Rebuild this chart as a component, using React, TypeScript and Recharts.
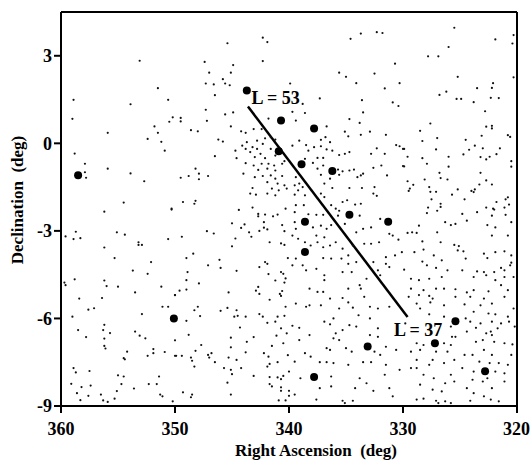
import React from "react";
import {
  ScatterChart,
  Scatter,
  XAxis,
  YAxis,
  ReferenceLine,
  Label,
} from "recharts";

const SERIF = "'Liberation Serif', 'Times New Roman', serif";

const raTicks = [360, 350, 340, 330, 320];
const decTicks = [3, 0, -3, -6, -9];

// bright sources [ra, dec]
const brightStars: [number, number][] = [
  [343.7, 1.81], [340.7, 0.78], [337.8, 0.51], [340.9, -0.27], [338.9, -0.72],
  [336.2, -0.95], [334.7, -2.45], [331.3, -2.69], [338.6, -2.69], [338.6, -3.72],
  [358.5, -1.09], [350.1, -6.0], [333.1, -6.96], [337.8, -8.01], [325.4, -6.1],
  [327.2, -6.85], [322.8, -7.81],
];

// faint field sources [ra, dec]
const faintStars: [number, number][] = [
  // 360-350, north
  [353.1, 2.83], [351.5, 1.89], [358.9, 1.49], [353.9, 1.34], [350.6, 1.49],
  [359.0, 0.84], [350.2, 0.89], [350.5, 0.74], [351.8, 0.58], [355.9, 0.36],
  [351.5, 0.36], [352.4, 0.15], [351.2, 0.05], [350.9, -0.25], [358.8, -0.35],
  [357.9, -0.7], [355.9, -0.87], [357.9, -0.99], [357.8, -1.18], [353.9, -1.03],
  [352.7, -1.3], [354.5, -2.03], [350.3, -2.24],
  // 350-340, north
  [345.4, 3.43], [341.9, 3.47], [342.3, 3.62], [347.4, 2.79], [344.9, 2.68],
  [342.3, 2.82], [347.0, 2.42], [345.1, 2.42], [345.8, 2.2], [347.3, 2.05],
  [346.6, 2.02], [345.6, 2.05], [345.2, 1.99], [346.5, 1.65], [347.3, 1.15],
  [344.9, 1.06], [345.6, 0.99], [349.5, 0.87], [349.5, 0.75], [347.2, 0.77],
  [345.1, 0.58], [348.6, 0.45], [348.0, 0.41], [344.2, 0.41], [343.8, 0.36],
  [343.1, 0.49], [342.4, 0.49], [346.2, 0.13], [345.8, 0.06], [341.8, 0.85],
  [342.1, 0.17], [341.6, 0.21], [341.2, 0.13], [342.8, 0.09], [342.3, -0.02],
  [343.7, 0.04], [344.1, -0.08], [344.7, -0.25], [343.8, -0.19], [343.2, -0.13],
  [342.8, -0.19], [343.4, -0.3], [342.5, -0.36], [343.0, -0.47], [342.1, -0.51],
  [341.6, -0.19], [341.2, -0.42], [340.7, -0.3], [340.4, -0.61], [344.6, -0.51],
  [346.5, -0.44], [343.8, -0.68], [343.1, -0.76], [342.4, -0.7], [341.8, -0.7],
  [341.3, -0.76], [340.6, -0.7], [342.7, -0.91], [341.9, -0.87], [341.2, -0.93],
  [344.0, -1.04], [343.0, -1.16], [342.3, -1.12], [341.6, -1.1], [341.2, -1.21],
  [340.6, -1.12], [349.5, -1.18], [348.8, -1.12], [348.2, -0.87], [347.9, -1.04],
  [347.9, -1.23], [347.1, -1.12], [341.9, -1.33], [341.0, -1.38], [340.4, -1.44],
  [343.2, -1.53], [341.5, -1.55], [340.9, -1.61], [340.2, -1.55], [343.4, -1.72],
  [342.9, -1.76], [341.9, -1.72], [341.2, -1.78], [349.3, -2.01], [348.2, -1.97],
  [348.3, -2.07], [343.2, -2.2], [340.3, -2.24],
  // 340-330, north
  [333.7, 3.76], [332.3, 3.81], [331.8, 3.78], [334.6, 3.58], [330.7, 2.73],
  [335.6, 2.42], [335.0, 2.28], [332.5, 2.39], [334.1, 2.06], [330.3, 2.06],
  [331.6, 1.88], [337.3, 1.54], [333.6, 1.48], [330.4, 1.28], [330.9, 1.4],
  [339.9, 2.05], [338.8, 1.35], [339.7, 1.08], [338.6, 1.04], [339.4, 0.78],
  [333.5, 1.06], [334.7, 0.83], [333.8, 0.7], [336.7, 0.58], [335.1, 0.4],
  [334.8, 0.24], [333.7, 0.29], [332.9, 0.4], [331.5, 0.29], [339.1, 0.09],
  [337.2, 0.12], [336.8, 0.21], [336.4, 0.04], [339.7, -0.08], [338.5, -0.06],
  [337.8, -0.13], [337.2, -0.1], [336.7, -0.21], [336.2, -0.25], [338.3, -0.25],
  [335.6, -0.4], [335.1, -0.36], [334.7, -0.3], [332.8, -0.36], [332.3, -0.17],
  [331.6, -0.36], [330.6, -0.06], [330.3, -0.1], [330.0, -0.19], [337.5, -0.5],
  [337.0, -0.5], [338.6, -0.53], [337.9, -0.67], [337.0, -0.76], [337.5, -0.87],
  [335.7, -0.9], [335.3, -0.96], [334.7, -0.93], [334.3, -0.9], [335.6, -1.08],
  [334.0, -1.16], [333.7, -1.1], [333.5, -1.04], [332.6, -0.84], [331.9, -0.76],
  [331.4, -1.1], [330.0, -0.78], [337.2, -1.08], [336.4, -1.21], [336.9, -1.38],
  [336.2, -1.53], [334.7, -1.53], [333.6, -1.53], [332.5, -1.5], [332.6, -1.72],
  [332.3, -1.8], [339.4, -1.16], [339.5, -1.44], [339.1, -1.38], [338.8, -1.5],
  [339.2, -1.61], [339.5, -1.76], [338.6, -1.78], [336.9, -1.84], [337.2, -1.72],
  [335.3, -2.01], [334.9, -1.95], [334.2, -2.1], [333.7, -2.07], [336.3, -2.12],
  [335.9, -2.24], [339.4, -2.12], [338.7, -2.12],
  // 330-320, north
  [325.5, 3.96], [321.9, 3.56], [320.3, 3.71], [320.4, 3.42], [326.0, 3.3],
  [327.8, 2.98], [326.9, 2.98], [325.2, 2.28], [320.3, 2.26], [322.1, 2.06],
  [323.5, 1.89], [322.2, 1.9], [326.2, 1.77], [326.8, 1.66], [325.3, 1.52],
  [324.9, 1.52], [323.8, 1.41], [322.3, 1.56], [321.6, 1.55], [322.8, 1.1],
  [327.6, 0.68], [328.5, 0.43], [322.7, 0.57], [322.2, 0.6], [322.2, 0.51],
  [323.1, 0.26], [320.8, 0.28], [320.6, 0.22], [328.3, 0.08], [327.0, 0.18],
  [324.5, 0.12], [323.7, -0.08], [324.2, -0.22], [323.0, -0.17], [321.5, -0.17],
  [329.9, -0.19], [327.1, -0.21], [329.6, -0.46], [328.3, -0.51], [326.0, -0.46],
  [324.7, -0.38], [323.2, -0.47], [322.7, -0.55], [322.4, -0.46], [321.8, -0.37],
  [320.5, -0.61], [327.9, -0.7], [326.0, -0.8], [320.5, -0.8], [329.9, -0.79],
  [326.8, -1.01], [323.2, -1.01], [328.1, -1.24], [326.7, -1.19], [326.1, -1.24],
  [322.7, -1.27], [329.6, -1.3], [329.1, -1.42], [329.4, -1.55], [329.5, -1.63],
  [327.7, -1.5], [327.6, -1.66], [327.1, -1.66], [325.2, -1.58], [324.0, -1.63],
  [323.7, -1.58], [323.8, -1.67], [323.3, -1.41], [322.2, -1.41], [325.7, -1.76],
  [327.5, -1.92], [326.7, -2.07], [326.7, -2.18], [327.8, -2.2], [324.6, -1.92],
  [322.7, -2.2], [322.1, -2.24], [321.8, -2.01], [321.0, -1.92], [320.8, -1.85],
  [320.7, -2.1], [321.1, -2.2],
  // 360-350, south
  [356.2, -2.34], [350.3, -2.27], [358.7, -3.03], [359.6, -3.19], [358.9, -3.28],
  [358.3, -3.25], [355.1, -3.05], [354.4, -3.13], [353.2, -3.39], [352.9, -3.48],
  [353.2, -3.48], [350.6, -3.28], [356.2, -3.57], [355.3, -3.93], [352.1, -4.07],
  [353.7, -4.36], [352.4, -4.47], [358.8, -4.66], [359.7, -4.77], [359.6, -4.86],
  [356.2, -4.7], [356.0, -4.89], [355.0, -4.91], [353.5, -5.11], [351.2, -4.91],
  [358.4, -5.32], [356.4, -5.3], [357.1, -5.65], [357.6, -5.7], [351.1, -5.6],
  [350.6, -5.6], [350.0, -5.2], [359.0, -5.94], [352.9, -5.85], [356.2, -6.22],
  [356.3, -6.4], [355.7, -6.5], [358.5, -6.4], [357.8, -6.64], [356.2, -6.69],
  [353.5, -6.45], [353.1, -6.59], [352.6, -6.68], [350.0, -6.75], [356.2, -6.94],
  [356.1, -7.03], [354.2, -7.14], [354.5, -7.36], [354.4, -7.4], [351.9, -7.05],
  [351.9, -7.19], [352.4, -7.28], [350.9, -7.15], [349.9, -7.28], [358.9, -7.7],
  [358.7, -7.85], [357.5, -7.8], [355.0, -7.95], [354.5, -7.99], [351.4, -7.99],
  [359.1, -8.24], [358.2, -8.35], [357.4, -8.3], [354.7, -8.25], [353.6, -8.4],
  [352.3, -8.25], [351.6, -8.25], [358.6, -8.56], [357.6, -8.65], [356.5, -8.61],
  [355.1, -8.49], [351.3, -8.61], [351.1, -8.67], [356.3, -8.81], [355.9, -8.86],
  [355.3, -8.75], [358.3, -8.8], [350.2, -8.84],
  // 350-340, south
  [344.4, -2.28], [342.7, -2.42], [342.1, -2.44], [342.7, -2.5], [341.0, -2.44],
  [341.4, -2.5], [345.0, -2.74], [343.9, -2.78], [342.2, -2.7], [340.6, -2.8],
  [344.2, -2.9], [342.2, -2.89], [341.9, -2.95], [347.2, -3.01], [346.6, -3.09],
  [343.5, -3.05], [342.6, -3.0], [340.4, -3.01], [349.4, -3.2], [344.7, -3.26],
  [343.3, -3.2], [341.7, -3.39], [340.7, -3.43], [340.4, -3.48], [345.0, -3.53],
  [348.4, -3.78], [349.0, -3.93], [346.1, -3.99], [342.1, -4.07], [341.9, -4.13],
  [340.1, -3.93], [347.1, -4.18], [346.0, -4.27], [342.6, -4.24], [344.6, -4.37],
  [348.9, -4.41], [341.8, -4.48], [340.7, -4.41], [340.5, -4.47], [340.3, -4.63],
  [341.2, -4.7], [340.4, -4.77], [347.9, -4.8], [349.0, -4.69], [349.6, -5.05],
  [349.0, -5.01], [342.7, -4.92], [342.9, -5.05], [345.3, -5.11], [342.6, -5.16],
  [340.6, -5.06], [340.8, -5.16], [340.7, -5.23], [341.7, -5.36], [350.0, -5.2],
  [348.0, -5.6], [348.3, -5.72], [345.4, -5.64], [346.0, -5.74], [344.6, -5.72],
  [340.3, -5.6], [347.8, -5.92], [344.8, -5.94], [344.5, -5.91], [343.8, -5.94],
  [342.6, -5.85], [342.3, -5.94], [341.9, -6.15], [341.0, -5.94], [340.4, -5.91],
  [341.2, -6.11], [349.0, -6.08], [344.3, -6.31], [348.8, -6.56], [345.1, -6.66],
  [343.1, -6.64], [340.7, -6.34], [341.1, -6.59], [340.2, -6.51], [347.7, -6.91],
  [343.7, -6.8], [341.5, -6.94], [340.5, -6.85], [348.2, -7.11], [345.1, -6.99],
  [343.8, -7.16], [350.0, -7.28], [349.4, -7.28], [348.6, -7.34], [348.5, -7.45],
  [347.1, -7.25], [346.8, -7.19], [347.0, -7.34], [345.3, -7.34], [344.6, -7.42],
  [346.5, -7.5], [342.2, -7.19], [341.8, -7.31], [341.0, -7.5], [340.1, -7.26],
  [348.3, -7.65], [345.7, -7.7], [345.1, -7.76], [344.2, -7.7], [341.9, -7.65],
  [341.7, -7.56], [340.0, -7.82], [345.0, -7.91], [343.1, -7.97], [341.7, -8.01],
  [341.0, -8.02], [340.5, -7.97], [340.7, -8.08], [345.4, -8.2], [341.7, -8.25],
  [341.5, -8.33], [340.7, -8.36], [340.7, -8.48], [349.3, -8.53], [348.5, -8.61],
  [348.6, -8.7], [345.1, -8.61], [340.0, -8.48], [340.9, -8.81], [340.3, -8.81],
  [340.0, -8.65],
  // 340-330, south
  [339.5, -2.36], [338.3, -2.43], [337.6, -2.45], [337.0, -2.45], [335.7, -2.48],
  [335.6, -2.31], [333.8, -2.48], [332.0, -2.59], [339.5, -2.7], [339.4, -2.93],
  [337.9, -2.88], [337.2, -2.82], [336.7, -2.93], [336.3, -2.8], [335.1, -2.76],
  [334.1, -3.05], [333.5, -2.93], [332.8, -2.88], [339.7, -3.16], [339.2, -3.27],
  [338.6, -3.39], [338.1, -3.5], [337.6, -3.16], [337.5, -3.39], [336.9, -3.22],
  [337.0, -3.56], [336.4, -3.5], [335.9, -3.39], [335.3, -3.61], [334.4, -3.5],
  [333.4, -3.44], [332.8, -3.44], [332.1, -3.39], [331.2, -3.1], [330.9, -3.16],
  [330.4, -3.3], [331.5, -3.9], [330.7, -3.84], [330.1, -3.73], [339.4, -3.95],
  [339.7, -4.18], [338.8, -4.18], [337.0, -3.93], [336.3, -3.95], [335.4, -3.95],
  [334.8, -3.84], [334.8, -4.13], [334.1, -4.07], [332.6, -4.07], [331.5, -4.13],
  [332.2, -4.35], [331.2, -4.24], [338.5, -4.35], [337.6, -4.3], [336.9, -4.52],
  [336.9, -4.69], [335.3, -4.41], [334.5, -4.41], [333.2, -4.64], [332.0, -4.52],
  [338.2, -4.98], [337.5, -5.09], [337.0, -5.09], [334.8, -4.98], [333.8, -4.86],
  [333.7, -4.98], [339.4, -5.49], [338.5, -5.6], [338.2, -5.55], [337.2, -5.55],
  [336.4, -5.32], [335.3, -5.3], [334.8, -5.45], [334.4, -5.63], [335.6, -5.66],
  [333.4, -5.26], [332.9, -5.6], [332.2, -5.66], [331.2, -5.6], [333.9, -5.89],
  [332.9, -6.0], [336.1, -6.0], [336.9, -6.11], [336.4, -6.2], [339.7, -6.25],
  [339.1, -6.32], [334.7, -6.23], [334.1, -6.28], [332.2, -6.34], [338.2, -6.57],
  [335.9, -6.51], [335.3, -6.4], [335.6, -6.74], [336.1, -6.68], [332.9, -6.57],
  [332.2, -6.63], [339.1, -6.74], [336.7, -7.02], [336.4, -7.08], [335.0, -7.02],
  [334.5, -7.14], [332.5, -7.14], [332.0, -7.25], [331.5, -6.97], [330.6, -7.08],
  [338.6, -7.19], [338.1, -7.31], [339.5, -7.48], [337.3, -7.5], [336.7, -7.5],
  [336.1, -7.53], [334.8, -7.59], [333.5, -7.5], [332.8, -7.5], [331.5, -7.59],
  [330.3, -7.76], [331.6, -7.93], [339.0, -8.05], [336.3, -7.99], [333.8, -8.05],
  [333.2, -8.22], [337.3, -8.39], [336.3, -8.33], [334.2, -8.39], [332.6, -8.48],
  [331.2, -8.39], [339.5, -8.61], [330.9, -8.67], [337.6, -8.78], [335.3, -8.82],
  [335.1, -8.9], [334.4, -8.82],
  // 330-320, south
  [327.9, -2.39], [327.0, -2.31], [324.8, -2.42], [323.5, -2.36], [322.0, -2.27],
  [322.2, -2.48], [321.0, -2.45], [328.6, -2.82], [326.3, -2.7], [325.8, -2.8],
  [325.4, -2.76], [324.4, -2.65], [322.6, -2.8], [321.9, -2.88], [320.5, -2.7],
  [329.6, -3.07], [329.2, -3.05], [328.8, -3.07], [327.0, -3.05], [322.2, -3.16],
  [320.8, -3.16], [328.3, -3.36], [326.7, -3.39], [325.5, -3.48], [325.1, -3.52],
  [329.0, -3.73], [328.2, -3.64], [327.3, -3.84], [325.2, -3.67], [324.7, -3.7],
  [322.9, -3.78], [321.9, -3.73], [321.1, -3.7], [320.5, -3.84], [328.3, -4.05],
  [326.6, -4.01], [324.5, -3.95], [322.6, -3.93], [320.5, -4.09], [327.9, -4.18],
  [326.1, -4.35], [327.1, -4.27], [324.8, -4.35], [323.5, -4.39], [322.9, -4.41],
  [322.0, -4.41], [321.4, -4.27], [321.1, -4.35], [320.6, -4.18], [329.9, -4.33],
  [329.3, -4.64], [328.6, -4.69], [327.7, -4.64], [326.6, -4.58], [323.8, -4.58],
  [322.7, -4.52], [321.9, -4.69], [321.1, -4.58], [320.3, -4.58], [329.3, -4.98],
  [328.2, -5.03], [327.1, -4.98], [326.4, -4.98], [325.4, -5.0], [324.4, -5.11],
  [323.8, -5.03], [322.5, -5.07], [321.4, -4.86], [320.8, -5.03], [329.5, -5.26],
  [328.6, -5.2], [327.7, -5.23], [327.4, -5.32], [325.4, -5.26], [324.1, -5.26],
  [322.9, -5.32], [321.1, -5.26], [328.8, -5.49], [327.6, -5.45], [326.4, -5.55],
  [324.6, -5.52], [323.2, -5.55], [322.2, -5.49], [320.3, -5.66], [328.5, -5.66],
  [327.7, -5.86], [326.4, -5.94], [323.8, -5.77], [322.5, -5.83], [321.9, -5.86],
  [320.8, -5.94], [324.5, -6.0], [324.1, -6.11], [323.2, -6.17], [322.2, -6.11],
  [321.4, -6.17], [320.7, -6.11], [329.8, -6.17], [325.8, -6.28], [323.6, -6.32],
  [322.3, -6.45], [321.7, -6.34], [320.2, -6.28], [325.7, -6.63], [325.4, -6.63],
  [324.4, -6.45], [322.7, -6.51], [322.2, -6.57], [328.8, -6.85], [328.2, -6.91],
  [326.4, -6.85], [325.8, -6.91], [323.6, -6.8], [323.0, -6.74], [322.0, -6.8],
  [321.1, -6.85], [320.4, -6.89], [329.3, -7.14], [328.5, -7.08], [327.1, -7.14],
  [326.1, -7.14], [324.6, -7.25], [323.9, -7.25], [322.9, -7.08], [322.2, -7.25],
  [320.5, -7.25], [328.8, -7.42], [327.4, -7.42], [325.5, -7.42], [323.3, -7.48],
  [322.4, -7.53], [321.6, -7.53], [320.8, -7.59], [329.3, -7.7], [328.8, -7.7],
  [327.7, -7.59], [326.4, -7.53], [324.8, -7.7], [323.8, -7.82], [321.9, -7.82],
  [321.1, -7.88], [328.2, -7.93], [325.8, -7.93], [327.3, -8.05], [323.9, -8.1],
  [323.0, -8.16], [322.6, -8.05], [321.1, -8.16], [328.5, -8.27], [326.3, -8.22],
  [325.5, -8.16], [324.4, -8.39], [322.2, -8.39], [327.4, -8.44], [326.6, -8.5],
  [323.8, -8.56], [322.9, -8.67], [328.8, -8.78], [328.2, -8.75], [327.1, -8.82],
  [326.9, -8.9], [326.3, -8.84], [325.8, -8.9], [324.1, -8.82], [322.3, -8.78],
  [321.6, -8.84],
];

// fitted track, L = 53 end to L = 37 end
const trackEnds = [
  { x: 343.6, y: 1.26 },
  { x: 329.6, y: -5.95 },
];

const trackLabels = [
  { ra: 343.3, dec: 1.36, text: "L = 53" },
  { ra: 330.8, dec: -6.61, text: "L = 37" },
];

const toPoints = (list: [number, number][]) =>
  list.map(([ra, dec]) => ({ ra, dec }));

const faintData = toPoints(faintStars);
const brightData = toPoints(brightStars);

const tickStyle = {
  fill: "#000",
  fontSize: 18,
  fontWeight: 700,
  fontFamily: SERIF,
};

const axisLine = { stroke: "#000", strokeWidth: 2 };
const tickLine = { stroke: "#000", strokeWidth: 2 };

const FaintDot = (props: any) => (
  <circle cx={props.cx} cy={props.cy} r={1.1} fill="#111" />
);

const BrightDot = (props: any) => (
  <circle cx={props.cx} cy={props.cy} r={4} fill="#000" />
);

const TrackText = (props: any) => (
  <text
    x={props.cx}
    y={props.cy}
    fill="#000"
    fontSize={18}
    fontWeight={700}
    fontFamily={SERIF}
  >
    {props.payload.text}
  </text>
);

const XTitle = (props: any) => {
  const { x, y, width } = props.viewBox;
  return (
    <text
      x={x + width / 2 + 27}
      y={y + 50}
      textAnchor="middle"
      fill="#000"
      fontSize={17}
      fontWeight={700}
      fontFamily={SERIF}
      style={{ whiteSpace: "pre" }}
    >
      {"Right Ascension  (deg)"}
    </text>
  );
};

const YTitle = (props: any) => {
  const { x, y, height } = props.viewBox;
  const cx = x + 12;
  const cy = y + height / 2 - 9;
  return (
    <text
      x={cx}
      y={cy}
      transform={`rotate(-90, ${cx}, ${cy})`}
      textAnchor="middle"
      fill="#000"
      fontSize={17}
      fontWeight={700}
      fontFamily={SERIF}
      style={{ whiteSpace: "pre" }}
    >
      {"Declination  (deg)"}
    </text>
  );
};

export default function App() {
  return (
    <div
      style={{
        position: "absolute",
        left: 0,
        top: 0,
        width: 530,
        height: 466,
        background: "#fff",
      }}
    >
      <ScatterChart
        width={530}
        height={466}
        margin={{ top: 11, right: 12, bottom: 0, left: 11 }}
      >
        <XAxis
          type="number"
          dataKey="ra"
          domain={[320, 360]}
          ticks={raTicks}
          reversed
          allowDataOverflow
          height={60}
          axisLine={axisLine}
          tickLine={tickLine}
          tickSize={7}
          tickMargin={9}
          tick={tickStyle}
        >
          <Label content={XTitle} />
        </XAxis>
        <XAxis
          xAxisId="top"
          type="number"
          orientation="top"
          domain={[320, 360]}
          ticks={raTicks}
          reversed
          allowDataOverflow
          height={1}
          axisLine={axisLine}
          tickLine={tickLine}
          tickSize={7}
          tick={false}
        />
        <YAxis
          type="number"
          dataKey="dec"
          domain={[-9, 4.5]}
          ticks={decTicks}
          allowDataOverflow
          width={50}
          axisLine={axisLine}
          tickLine={tickLine}
          tickSize={7}
          tickMargin={2}
          tick={tickStyle}
        >
          <Label content={YTitle} />
        </YAxis>
        <YAxis
          yAxisId="right"
          type="number"
          orientation="right"
          domain={[-9, 4.5]}
          ticks={decTicks}
          allowDataOverflow
          width={1}
          axisLine={axisLine}
          tickLine={tickLine}
          tickSize={7}
          tick={false}
        />
        <Scatter
          data={faintData}
          shape={FaintDot}
          isAnimationActive={false}
        />
        <Scatter
          data={brightData}
          shape={BrightDot}
          isAnimationActive={false}
        />
        <ReferenceLine
          segment={trackEnds}
          stroke="#000"
          strokeWidth={2.5}
          ifOverflow="visible"
        />
        <Scatter
          data={trackLabels}
          shape={TrackText}
          isAnimationActive={false}
        />
      </ScatterChart>
    </div>
  );
}
